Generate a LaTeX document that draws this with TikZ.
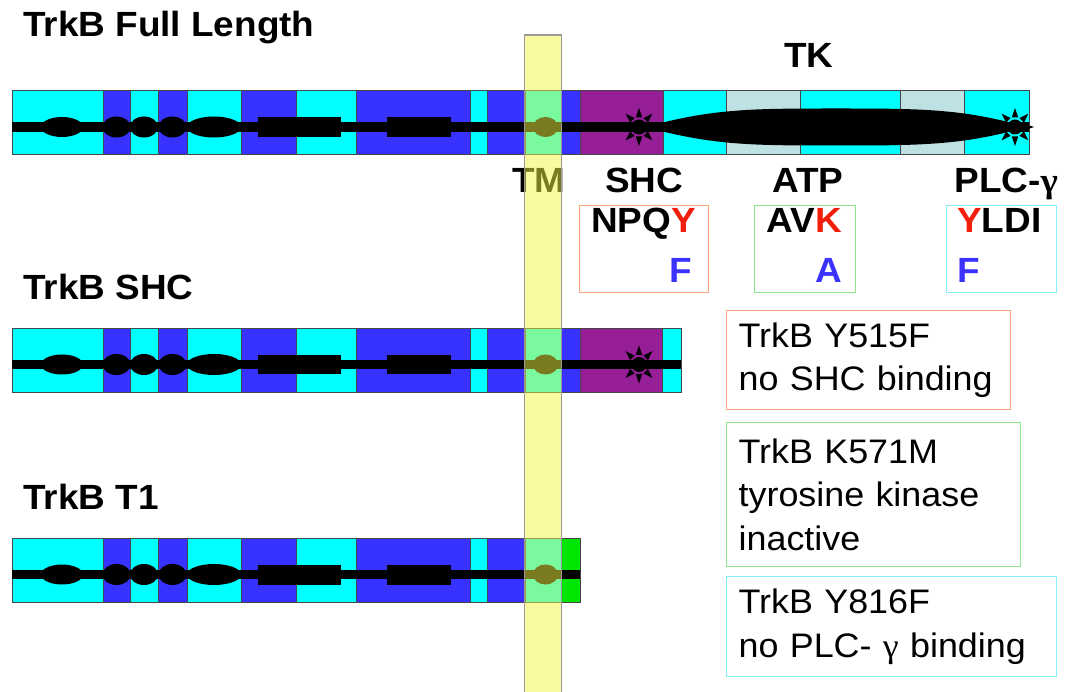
\documentclass[tikz,border=0pt]{standalone}
\usepackage{fontspec}
\setmainfont{Liberation Sans}[FakeStretch=1.055]
\newfontfamily\grkfont{Liberation Serif}[FakeStretch=1.055]
\usetikzlibrary{positioning}

\definecolor{segcyan}{RGB}{0,255,255}
\definecolor{segblue}{RGB}{55,50,255}
\definecolor{segpurple}{RGB}{150,30,150}
\definecolor{seggrey}{RGB}{190,226,228}
\definecolor{seggreen}{RGB}{0,230,0}
\definecolor{tmyellow}{RGB}{245,245,65}
\definecolor{mutred}{RGB}{240,30,10}
\definecolor{mutblue}{RGB}{60,50,255}
\definecolor{boxorange}{RGB}{255,165,125}
\definecolor{boxgreen}{RGB}{140,230,140}
\definecolor{boxcyan}{RGB}{130,240,250}

\newcommand{\trkbsegs}[1]{%
  \foreach \xa/\xb/\col in {12/103/segcyan,103/130/segblue,130/158/segcyan,158/187/segblue,
      187/241/segcyan,241/296/segblue,296/356/segcyan,356/470/segblue,470/487/segcyan,
      487/525/segblue,525/561/segcyan}
    \filldraw[seg, fill=\col] (\xa,#1-36.5) rectangle (\xb,#1+27.5);}
\newcommand{\trkbdomains}[2]{%
  \fill (12,#1-4.75) rectangle (#2,#1+4.75);
  \fill (62,#1) ellipse [x radius=21, y radius=10];
  \foreach \cx in {116.5,144,172.5}
    \fill (\cx,#1) ellipse [x radius=14, y radius=10.5];
  \fill (214,#1) ellipse [x radius=27, y radius=10.5];
  \fill (258,#1-9.5) rectangle (341,#1+10);
  \fill (387,#1-9.5) rectangle (451,#1+10);
  \fill (545.5,#1) ellipse [x radius=12.5, y radius=10];}
\newcommand{\pstar}[2]{%
  \fill (#1,#2) circle (7.5);
  \foreach \a in {0,45,...,315}
    \fill[shift={(#1,#2)}, rotate=\a] (9.5,-3.2) -- (19,0) -- (9.5,3.2) -- cycle;}

\begin{document}
\begin{tikzpicture}[x=1pt, y=-1pt,
    seg/.style={draw=gray!55!black, line width=0.8},
    lbl/.style={inner sep=0, font=\fontsize{35}{42}\selectfont\bfseries},
    sitebox/.style={anchor=north west, inner sep=0, line width=1.3},
    mutbox/.style={anchor=north west, align=left, inner xsep=12, inner ysep=0,
      line width=1.3, font=\fontsize{34}{43.5}\selectfont}]
  \useasboundingbox (0,0) rectangle (1068,692);

  % full length
  \trkbsegs{127}
  \foreach \xa/\xb/\col in {561/580/segblue,580/663/segpurple,663/726/segcyan,
      726/800/seggrey,800/900/segcyan,900/964/seggrey,964/1029/segcyan}
    \filldraw[seg, fill=\col] (\xa,127-36.5) rectangle (\xb,127+27.5);
  \trkbdomains{127}{1029}
  \fill (663,122.5) .. controls (720,108.5) and (760,108.5) .. (836,108.5)
    .. controls (912,108.5) and (955,108.5) .. (1010,122.5) -- (1010,131.5)
    .. controls (955,145.5) and (912,145.5) .. (836,145.5)
    .. controls (760,145.5) and (720,145.5) .. (663,131.5) -- cycle;
  \pstar{639}{127}
  \pstar{1015}{127}

  % SHC
  \trkbsegs{364.5}
  \foreach \xa/\xb/\col in {561/580/segblue,580/662/segpurple,662/681/segcyan}
    \filldraw[seg, fill=\col] (\xa,364.5-36.5) rectangle (\xb,364.5+27.5);
  \trkbdomains{364.5}{681}
  \pstar{639}{364.5}

  % T1
  \trkbsegs{574.5}
  \filldraw[seg, fill=seggreen] (561,574.5-36.5) rectangle (580,574.5+27.5);
  \trkbdomains{574.5}{580}

  \node[lbl, anchor=base west] (fulllen) at (23,37) {TrkB Full Length};
  \node[lbl, anchor=base west] (shclen) at (23,300) {TrkB SHC};
  \node[lbl, anchor=base west] (t1len) at (23,509) {TrkB T1};
  \node[lbl, anchor=base] (tk) at (809,68) {TK};
  \node[lbl, anchor=base] (tm) at (539,193) {TM};
  \node[lbl, anchor=base] (shc) at (644,193) {SHC};
  \node[lbl, anchor=base] (atp) at (808,193) {ATP};
  \node[lbl, anchor=base east] (plc) at (1058,193) {PLC-{\grkfont γ}};

  \filldraw[draw=gray!80, fill=tmyellow, fill opacity=0.5, line width=1.2]
    (524.5,35) rectangle (561.5,693);

  \node[sitebox, draw=boxorange, minimum width=129, minimum height=87] (shcbox) at (579,205) {};
  \node[sitebox, draw=boxgreen, minimum width=101, minimum height=87] (atpbox) at (754,205) {};
  \node[sitebox, draw=boxcyan, minimum width=110, minimum height=87] (plcbox) at (946,205) {};
  \node[lbl, anchor=base east] (npqy) at (696,233) {NPQ\textcolor{mutred}{Y}};
  \node[lbl, anchor=base east, text=mutblue] (shcf) at (692,283) {F};
  \node[lbl, anchor=base east] (avk) at (842,233) {AV\textcolor{mutred}{K}};
  \node[lbl, anchor=base east, text=mutblue] (atpa) at (842,283) {A};
  \node[lbl, anchor=base west] (yldi) at (957,233) {\textcolor{mutred}{Y}LDI};
  \node[lbl, anchor=base west, text=mutblue] (plcf) at (957,283) {F};

  \node[mutbox, draw=boxorange, minimum width=284, minimum height=99, text width=260]
    (y515f) at (726,310) {TrkB Y515F\\no SHC binding};
  \node[mutbox, draw=boxgreen, minimum width=294, minimum height=144, text width=270]
    (k571m) at (726,422) {TrkB K571M\\tyrosine kinase\\inactive};
  \node[mutbox, draw=boxcyan, minimum width=330, minimum height=100, text width=306]
    (y816f) at (726,576) {TrkB Y816F\\no PLC- {\grkfont γ} binding};
\end{tikzpicture}
\end{document}
